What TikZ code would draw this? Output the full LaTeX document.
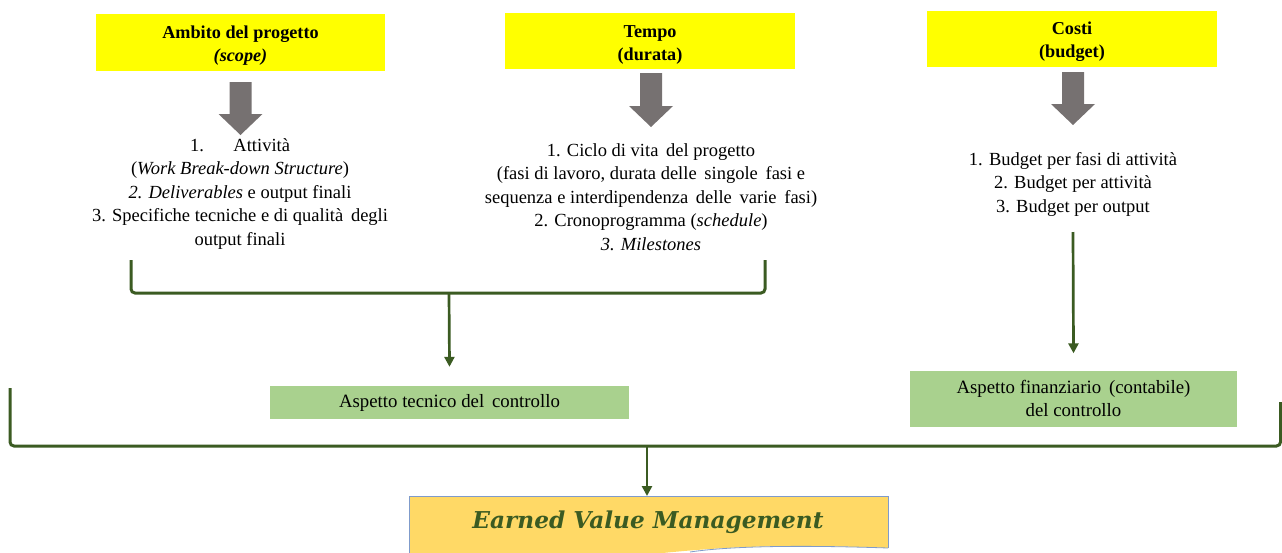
\documentclass[tikz,border=0pt]{standalone}
\usepackage{fontspec}
\setmainfont{Liberation Serif}
\newfontfamily\evmfont{DejaVu Serif}
\usetikzlibrary{arrows.meta}
\definecolor{ybox}{HTML}{FFFF00}
\definecolor{garrow}{HTML}{767171}
\definecolor{gbox}{HTML}{A9D18E}
\definecolor{dgreen}{HTML}{3B5B22}
\definecolor{evmfill}{HTML}{FFD966}
\definecolor{evmline}{HTML}{7F9BCB}
\tikzset{
  yellowbox/.style={fill=ybox, inner sep=0pt},
  yellowtext/.style={inner sep=0pt, align=center, font=\fontsize{18.2}{23}\selectfont\bfseries},
  greenbox/.style={fill=gbox, inner sep=0pt, align=center, font=\fontsize{18.8}{23}\selectfont},
  listtext/.style={align=center, inner sep=0pt, font=\fontsize{18.5}{23.5}\selectfont},
  bracket/.style={draw=dgreen, line width=3pt, rounded corners=4pt},
  garr/.style={draw=dgreen, line width=2.7pt, -{Triangle[width=10pt,length=10pt]}},
}
\newcommand{\blockarrow}[3]{% center x, top y, tip y
  \fill[garrow] (#1-11,#2) -- (#1+11,#2) -- (#1+11,#3-21) -- (#1+22,#3-21) -- (#1,#3) -- (#1-22,#3-21) -- (#1-11,#3-21) -- cycle;}
\begin{document}
\begin{tikzpicture}[x=1pt,y=-1pt]
\useasboundingbox (0,0) rectangle (1282,552);
\clip (0,0) rectangle (1282,552);
% yellow boxes
\node[yellowbox, minimum width=289pt, minimum height=57pt] (ambbox) at (240.5,42.5) {};
\node[yellowbox, minimum width=290pt, minimum height=56pt] (tembox) at (650,41) {};
\node[yellowbox, minimum width=290pt, minimum height=56pt] (cosbox) at (1072,39) {};
\node[yellowtext] (amb) at (240.5,46) {Ambito del progetto\\\textit{(scope)}};
\node[yellowtext] (tem) at (650,45) {Tempo\\(durata)};
\node[yellowtext] (cos) at (1072,42) {Costi\\(budget)};
% gray block arrows
\blockarrow{240.5}{82}{135}
\blockarrow{651}{73}{127}
\blockarrow{1073}{72}{125}
% lists
\node[listtext] (l1) at (240,194) {1.\hspace{1.6em}Attività\\(\textit{Work Break-down Structure})\\\textit{2. Deliverables} e output finali\\3. Specifiche tecniche e di qualità\, degli\\output finali};
\node[listtext] (l2) at (651,197) {1. Ciclo di vita\, del progetto\\(fasi di lavoro, durata delle\, singole\, fasi e\\sequenza e interdipendenza\, delle\, varie\, fasi)\\2. Cronoprogramma (\textit{schedule})\\\textit{3. Milestones}};
\node[listtext] (l3) at (1073,184) {1. Budget per fasi di attività\\2. Budget per attività\\3. Budget per output};
% green boxes
\node[greenbox, minimum width=359pt, minimum height=33pt] (tec) at (449.5,402.5) {Aspetto tecnico del\, controllo};
\node[greenbox, minimum width=327pt, minimum height=56pt] (fin) at (1073.5,398.5) {Aspetto finanziario\, (contabile)\\del controllo};
% EVM box
\fill[evmfill] (409,496) -- (888,496) -- (888,548) .. controls (760,543) and (700,548) .. (600,560) -- (409,560) -- cycle;
\draw[evmline, line width=0.8pt] (409,560) -- (409,496) -- (888,496) -- (888,548);
\draw[evmline, line width=0.8pt] (888,548) .. controls (800,545) and (730,546) .. (690,552);
\coordinate (evmtop) at (647,496);
\node[inner sep=0pt, text=dgreen] (evm) at (648,522) {\resizebox{351pt}{!}{\evmfont\bfseries\itshape Earned Value Management}};
% bracket 1
\coordinate (b1l) at (131,260);
\coordinate (b1r) at (765,260);
\coordinate (b1m) at (449,293);
\draw[bracket] (b1l) -- (131,293) -- (765,293) -- (b1r);
\draw[garr] (b1m) -- ([yshift=19pt]tec.north);
% costi line
\coordinate (c0) at (1073,232);
\draw[garr] (c0) -- ([yshift=17pt]fin.north);
% big bracket
\coordinate (bl) at (10,388);
\coordinate (br) at (1280.5,402);
\coordinate (bm) at (647,446);
\draw[bracket] (bl) -- (10,446) -- (1280.5,446) -- (br);
\draw[garr] (bm) -- (evmtop);
\end{tikzpicture}
\end{document}
